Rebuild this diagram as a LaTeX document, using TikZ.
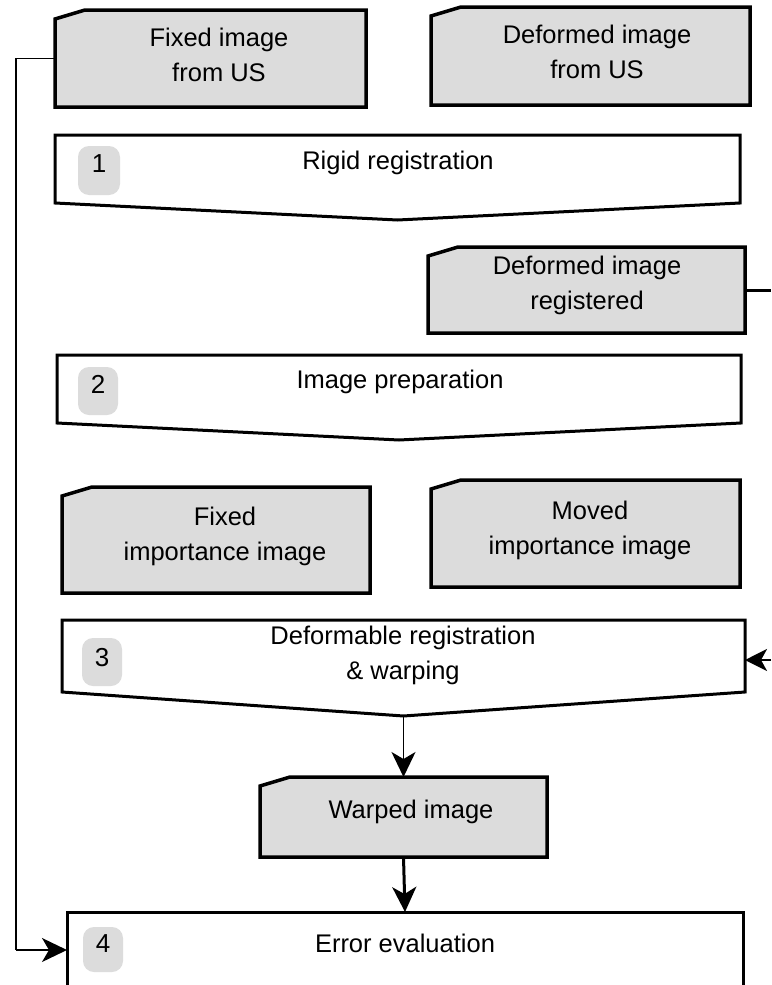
\documentclass[tikz,border=0pt]{standalone}
\usepackage{fontspec}
\setmainfont{Liberation Sans}
\usetikzlibrary{arrows.meta}
\definecolor{boxgray}{HTML}{DCDCDC}
\newcommand\DataBox[8]{%
  \node[area, minimum width={#4-#2}, minimum height={#5-#3}] (#1) at ({(#2+#4)/2},{(#3+#5)/2}) {};
  \path[dframe] (#2,#3+9) -- (#2+30,#3) -- (#4,#3) -- (#4,#5) -- (#2,#5) -- cycle;
  \node[txt] (#1text) at (#6,#7) {#8};
}
\newcommand\ProcBox[6]{%
  \node[area, minimum width={#4-#2}, minimum height={#5-#3}] (#1) at ({(#2+#4)/2},{(#3+#5)/2}) {};
  \path[pframe] (#1.north west) -- (#1.north east) -- (#1.south east) -- ([yshift=-#6pt]#1.south) -- (#1.south west) -- cycle;
  \coordinate (#1tip) at ([yshift=-#6pt]#1.south);
}
\begin{document}
\begin{tikzpicture}[x=1pt,y=-1pt,
  txt/.style={font=\fontsize{25.5}{35}\selectfont, align=center, inner sep=0pt},
  area/.style={draw=none, inner sep=0pt, outer sep=0pt},
  dframe/.style={draw=black, line width=3.5pt, fill=boxgray, line join=miter},
  pframe/.style={draw=black, line width=3pt, fill=white, line join=miter},
  badge/.style={fill=boxgray, rounded corners=11pt, draw=none},
  numtxt/.style={font=\fontsize{26}{28}\selectfont, inner sep=0pt},
  thinline/.style={line width=1.5pt},
  thinarrow/.style={line width=1.5pt, -{Stealth[length=25pt,width=24pt,inset=7pt]}},
  thickarrow/.style={line width=3pt, -{Stealth[length=25pt,width=24pt,inset=7pt]}}
]
\useasboundingbox (0,0) rectangle (771,985);

% data boxes
\DataBox{fixed}{55}{10}{366}{107}{219}{55}{Fixed image\\from US}
\DataBox{deformed}{431}{7}{750}{105}{597}{52}{Deformed image\\from US}
\DataBox{registered}{428}{247}{745}{333}{587}{285}{Deformed image\\registered}
\DataBox{fiximp}{62}{487}{370}{593}{225}{536}{Fixed\\importance image}
\DataBox{movimp}{431}{480}{740}{587}{590}{530}{Moved\\importance image}
\DataBox{warped}{260}{777}{547}{857}{411}{812}{Warped image}

% process boxes
\ProcBox{rigid}{55}{135}{740}{203}{17}
\node[txt] (rigidtext) at (398,163) {Rigid registration};
\path[badge] (78,146) rectangle (120,195);
\node[numtxt] (b1) at (99,164) {1};

\ProcBox{prep}{57}{355}{741}{423}{17}
\node[txt] (preptext) at (400,382) {Image preparation};
\path[badge] (78,367) rectangle (118,415);
\node[numtxt] (b2) at (98,384) {2};

\ProcBox{deform}{62}{620}{745}{692}{24}
\node[txt] (deformtext) at (403,655) {Deformable registration\\\& warping};
\path[badge] (82,638) rectangle (122,686);
\node[numtxt] (b3) at (102,658) {3};

\node[area, minimum width=676, minimum height=100] (err) at (405,962) {};
\path[pframe] (err.south west) -- (err.north west) -- (err.north east) -- (err.south east);
\node[txt] (errtext) at (405,943) {Error evaluation};
\path[badge] (83,927) rectangle (123,972);
\node[numtxt] (b4) at (103,944) {4};

% connectors
\coordinate (lefttarget) at (67,950);
\coordinate (rightedge) at (771,288);
\coordinate (rightin) at (771,660);
\draw[thinline] (fixed.west) -- (16,58.5) -- (16,950);
\draw[thinarrow] (16,950) -- (err.west |- lefttarget);
\draw[line width=3pt] (registered.east) -- (registered.east -| rightedge);
\draw[line width=2.5pt, -{Stealth[length=22pt,width=22pt,inset=6pt]}] (rightin) -- (deform.east |- rightin);
\draw[thinarrow] (deformtip) -- (warped.north);
\draw[thickarrow] (warped.south) -- (err.north);
\end{tikzpicture}
\end{document}
